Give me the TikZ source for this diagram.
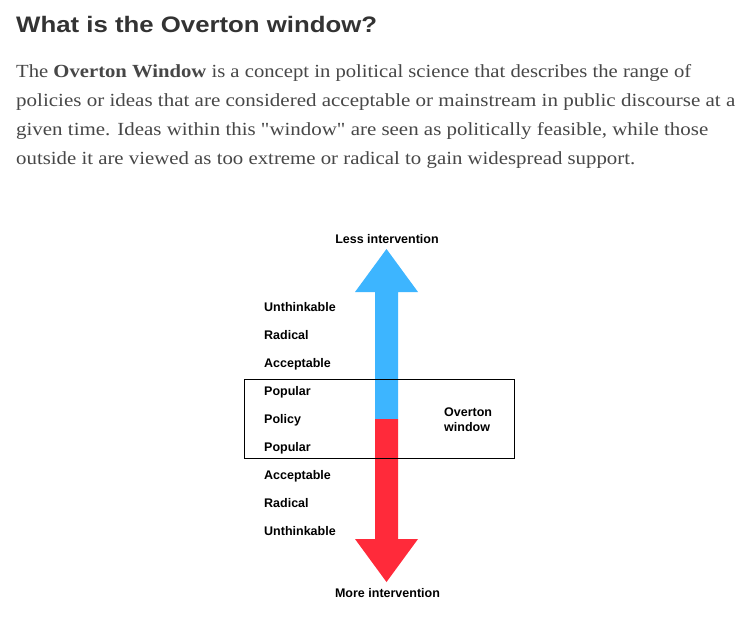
\documentclass[tikz,border=0pt]{standalone}
\usepackage{fontspec}
\usepackage{graphicx}
\setmainfont{Liberation Serif}
\newfontfamily\labfont{Liberation Sans}
\definecolor{titlegray}{HTML}{333333}
\definecolor{textgray}{HTML}{474747}
\definecolor{arrowblue}{HTML}{3DB5FF}
\definecolor{arrowred}{HTML}{FF2A3A}
\newcommand\fitline[2]{\resizebox{#1}{\height}{#2}}
\tikzset{
  titletext/.style={anchor=base west, inner sep=0pt, text=titlegray, font=\labfont\bfseries\fontsize{22.4}{26}\selectfont},
  paratext/.style={anchor=base west, inner sep=0pt, text=textgray, font=\fontsize{18.5}{22}\selectfont},
  lab/.style={anchor=base west, inner sep=0pt, font=\labfont\bfseries\fontsize{12.5}{14}\selectfont},
  endlab/.style={anchor=base, inner sep=0pt, font=\labfont\bfseries\fontsize{12.5}{14}\selectfont},
  windowbox/.style={draw=black, line width=1pt, inner sep=0pt, fill=none},
}
\begin{document}
\begin{tikzpicture}[x=1pt,y=-1pt]
\useasboundingbox[fill=white] (0,0) rectangle (754,625);
% heading and paragraph
\node[titletext] (title) at (16,32.5) {\fitline{361pt}{What is the Overton window?}};
\node[paratext] (p1) at (16,77) {\fitline{675pt}{The \textbf{Overton Window} is a concept in political science that describes the range of}};
\node[paratext] (p2) at (16,106.3) {\fitline{719pt}{policies or ideas that are considered acceptable or mainstream in public discourse at a}};
\node[paratext] (p3) at (16,135.6) {\fitline{692pt}{given time. Ideas within this \textquotedbl window\textquotedbl\ are seen as politically feasible, while those}};
\node[paratext] (p4) at (16,164.9) {\fitline{619pt}{outside it are viewed as too extreme or radical to gain widespread support.}};
% arrows
\fill[arrowblue] (375,419) -- (375,292) -- (355,292) -- (386.5,249) -- (418,292) -- (398,292) -- (398,419) -- cycle;
\fill[arrowred] (375,419) -- (375,539) -- (355,539) -- (386.5,582) -- (418,539) -- (398,539) -- (398,419) -- cycle;
% window box
\node[windowbox, minimum width=270pt, minimum height=79pt, anchor=north west] (win) at (244,379) {};
% end labels
\node[endlab] (less) at (387,243.5) {Less intervention};
\node[endlab] (more) at (387.5,597.5) {More intervention};
% level labels
\node[lab] (u1) at (264,311.5) {Unthinkable};
\node[lab] (r1) at (264,339.5) {Radical};
\node[lab] (a1) at (264,367.5) {Acceptable};
\node[lab] (pp1) at (264,395.5) {Popular};
\node[lab] (pol) at (264,423.5) {Policy};
\node[lab] (pp2) at (264,451.5) {Popular};
\node[lab] (a2) at (264,479.5) {Acceptable};
\node[lab] (r2) at (264,507.5) {Radical};
\node[lab] (u2) at (264,535.5) {Unthinkable};
\node[lab] (ov1) at (444,416.5) {Overton};
\node[lab] (ov2) at (444,431.5) {window};
\end{tikzpicture}
\end{document}
